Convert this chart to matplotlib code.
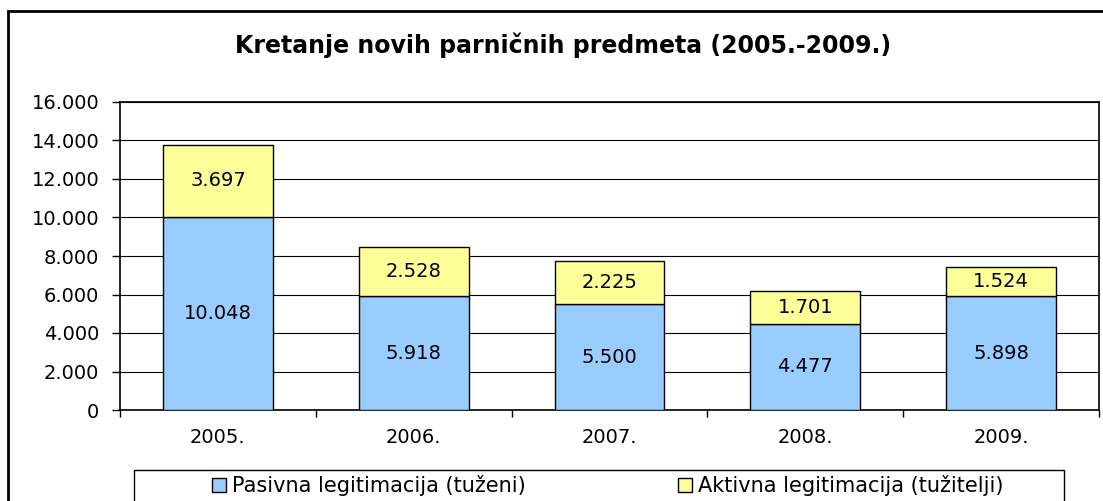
import matplotlib
matplotlib.use("Agg")
import matplotlib.pyplot as plt
from matplotlib.patches import Rectangle, Patch
from matplotlib.ticker import FuncFormatter

years = ['2005.', '2006.', '2007.', '2008.', '2009.']
pasivna = [10048, 5918, 5500, 4477, 5898]
aktivna = [3697, 2528, 2225, 1701, 1524]
series_names = ['Pasivna legitimacija (tuženi)', 'Aktivna legitimacija (tužitelji)']

# the original is a stretched Arial rendering; DejaVu Sans is a closer width match
plt.rcParams['font.family'] = ['DejaVu Sans']

W, H = 1103, 501
fig = plt.figure(figsize=(W / 100, H / 100), dpi=100)
fig.patch.set_facecolor('white')

# outer chart frame (runs off the right / bottom edge like the original)
fig.patches.append(Rectangle((8 / W, -0.2), 1.2, 1.2 - 11 / H,
                             transform=fig.transFigure, fill=False,
                             edgecolor='black', linewidth=2))

ax = fig.add_axes([120 / W, (H - 410) / H, (1099 - 120) / W, (410 - 102) / H])

x = range(len(years))
blue = '#99CCFF'
yellow = '#FFFF99'
ax.bar(x, pasivna, width=0.56, color=blue, edgecolor='black', linewidth=1, zorder=3)
ax.bar(x, aktivna, width=0.56, bottom=pasivna, color=yellow, edgecolor='black', linewidth=1, zorder=3)

fmt = lambda v: '{:,}'.format(int(v)).replace(',', '.')
fs = 14
for i in x:
    ax.text(i, pasivna[i] / 2, fmt(pasivna[i]), ha='center', va='center', fontsize=fs, zorder=4)
    ax.text(i, pasivna[i] + aktivna[i] / 2, fmt(aktivna[i]), ha='center', va='center', fontsize=fs, zorder=4)

ax.set_xlim(-0.5, 4.5)
ax.set_ylim(0, 16000)
ax.set_yticks(range(0, 16001, 2000))
ax.yaxis.set_major_formatter(FuncFormatter(lambda v, p: fmt(v)))
ax.set_xticks([i + 0.5 for i in range(-1, 5)], minor=False)
ax.set_xticklabels([])
ax.set_xticks(list(x), minor=True)
ax.set_xticklabels(years, minor=True)
ax.tick_params(axis='x', which='minor', length=0, pad=13, labelsize=fs)
ax.tick_params(axis='x', which='major', length=5, width=1, direction='out')
ax.tick_params(axis='y', length=6, width=1, direction='out', labelsize=fs, pad=9)
ax.grid(axis='y', color='black', linewidth=0.8, zorder=0)
for s in ax.spines.values():
    s.set_linewidth(1.2)
    s.set_color('black')

fig.text(563 / W, 1 - 45 / H, 'Kretanje novih parničnih predmeta (2005.-2009.)',
         ha='center', va='center', fontsize=17, fontweight='bold')

# legend frame
fig.patches.append(Rectangle((134 / W, -0.1), (1064 - 134) / W, 0.1 + (H - 470) / H,
                             transform=fig.transFigure, fill=False,
                             edgecolor='black', linewidth=1))
colors = [blue, yellow]
starts = [212, 678]
for name, c, x0 in zip(series_names, colors, starts):
    fig.legend([Patch(facecolor=c, edgecolor='black', linewidth=1)], [name],
               loc='center left', frameon=False,
               bbox_to_anchor=(x0 / W, 1 - 486 / H), borderaxespad=0, borderpad=0,
               fontsize=15, handlelength=0.65, handleheight=0.65, handletextpad=0.3)

fig.savefig('out.png', dpi=100)
